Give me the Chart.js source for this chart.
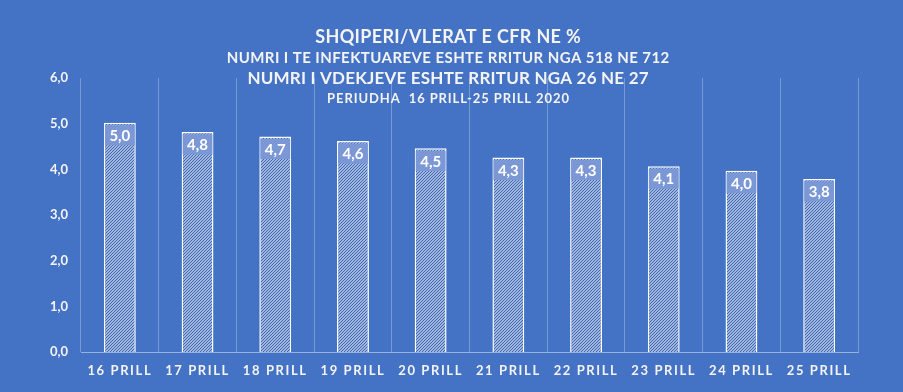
<!DOCTYPE html>
<html>
<head>
<meta charset="utf-8">
<script src="https://cdn.jsdelivr.net/npm/chart.js@4.4.1/dist/chart.umd.min.js"></script>
<style>
  html, body { margin: 0; padding: 0; background: #4472C4; }
  #wrap { width: 903px; height: 392px; }
</style>
</head>
<body>
<div id="wrap"><canvas id="c" width="903" height="392"></canvas></div>
<script>
// data
const days = ["16 PRILL", "17 PRILL", "18 PRILL", "19 PRILL", "20 PRILL",
              "21 PRILL", "22 PRILL", "23 PRILL", "24 PRILL", "25 PRILL"];
const cfr = [5.02, 4.82, 4.72, 4.62, 4.46, 4.26, 4.26, 4.07, 3.97, 3.79];
const yTicks = [0, 1, 2, 3, 4, 5, 6];
const titleLines = [
  "SHQIPERI/VLERAT E CFR NE %",
  "NUMRI I TE INFEKTUAREVE ESHTE RRITUR NGA 518 NE 712",
  "NUMRI I VDEKJEVE ESHTE RRITUR NGA 26 NE 27",
  "PERIUDHA  16 PRILL-25 PRILL 2020"
];

const BG = "#4472C4";
const TXT = "#F4F4F4";
const FONT = "Lato, 'Open Sans', sans-serif";
const comma = (v) => v.toFixed(1).replace(".", ",");

// white hatch with blue diagonals
function hatch() {
  const t = document.createElement("canvas");
  t.width = 3; t.height = 3;
  const g = t.getContext("2d");
  g.fillStyle = "#ffffff";
  g.fillRect(0, 0, 3, 3);
  g.strokeStyle = "#3d67b6";
  g.lineWidth = 1.35;
  g.beginPath();
  g.moveTo(-1, 4); g.lineTo(4, -1);
  g.moveTo(-1, 1); g.lineTo(1, -1);
  g.moveTo(2, 4); g.lineTo(4, 2);
  g.stroke();
  return g.createPattern(t, "repeat");
}

// titles drawn over the plot, as in the original
const titlePlugin = {
  id: "titles",
  afterDraw(chart) {
    const ctx = chart.ctx;
    // [font size, centre y, letter spacing]
    const styles = [[18, 37, 0.35], [15, 58, 0.42], [17, 79, 0.2], [13, 99, 0.9]];
    ctx.save();
    ctx.fillStyle = TXT;
    ctx.textAlign = "center";
    ctx.textBaseline = "middle";
    titleLines.forEach((s, i) => {
      const [size, y, sp] = styles[i];
      ctx.font = "bold " + size + "px " + FONT;
      ctx.letterSpacing = sp + "px";
      ctx.fillText(s, 448 + sp / 2, y);
    });
    ctx.restore();
  }
};

// value boxes inside the top of each bar
const valuePlugin = {
  id: "values",
  afterDatasetsDraw(chart) {
    const ctx = chart.ctx;
    const meta = chart.getDatasetMeta(0);
    ctx.save();
    ctx.font = "bold 15px " + FONT;
    ctx.textAlign = "center";
    ctx.textBaseline = "middle";
    meta.data.forEach((bar, i) => {
      const s = comma(cfr[i]);
      const w = ctx.measureText(s).width + 9;
      const h = 20;
      const top = bar.y + 2.5;
      ctx.fillStyle = "rgba(122,151,214,0.9)";
      ctx.fillRect(bar.x - w / 2, top, w, h);
      ctx.fillStyle = "#ffffff";
      ctx.fillText(s, bar.x, top + h / 2 + 1);
    });
    ctx.restore();
  }
};

// letter-spaced category labels
const spacingPlugin = {
  id: "spacing",
  beforeDraw(chart) {
    const s = chart.scales.x;
    if (s._spaced) return;
    const orig = s.drawLabels.bind(s);
    s.drawLabels = function (area) {
      this.ctx.save();
      this.ctx.letterSpacing = "1.6px";
      orig(area);
      this.ctx.restore();
    };
    s._spaced = true;
  }
};

new Chart(document.getElementById("c"), {
  type: "bar",
  data: {
    labels: days,
    datasets: [{
      data: cfr,
      backgroundColor: hatch(),
      borderColor: "#ffffff",
      borderWidth: 1.5,
      barPercentage: 0.41,
      categoryPercentage: 1
    }]
  },
  options: {
    responsive: false,
    animation: false,
    layout: { padding: { top: 78, right: 45, left: 0, bottom: 0 } },
    plugins: { legend: { display: false }, tooltip: { enabled: false } },
    scales: {
      x: {
        afterFit: (s) => { s.height = 40; },
        grid: { color: "rgba(255,255,255,0.28)", drawTicks: false, offset: true },
        border: { color: "rgba(255,255,255,0.45)", width: 1 },
        ticks: { color: TXT, font: { family: FONT, size: 13, weight: "bold" }, padding: 11, maxRotation: 0 }
      },
      y: {
        min: 0, max: 6,
        afterFit: (s) => { s.width = 81; },
        afterBuildTicks: (s) => { s.ticks = yTicks.map((v) => ({ value: v })); },
        grid: { display: false, drawTicks: false },
        border: { display: false },
        ticks: { color: TXT, font: { family: FONT, size: 13, weight: "bold" }, padding: 13, callback: (v) => comma(v) }
      }
    }
  },
  plugins: [spacingPlugin, valuePlugin, titlePlugin]
});
</script>
</body>
</html>
